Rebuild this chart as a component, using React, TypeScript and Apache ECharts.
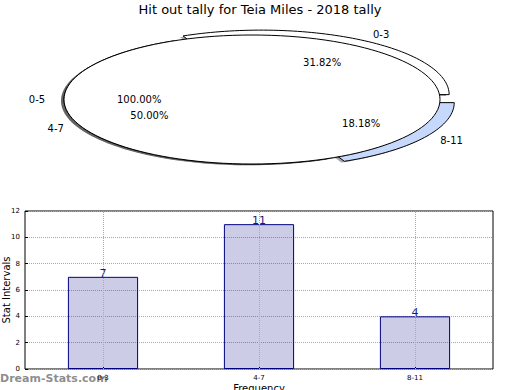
import React, { useEffect, useRef } from "react";
import * as echarts from "echarts";

const titleText = "Hit out tally for Teia Miles - 2018 tally";

// Pie (top)
const pieLabels = ["0-3", "4-7", "8-11"];
const pieValues = [7, 11, 4];
const pieExplode = [0.09, 0, 0.09];
const pieColors = ["#ffffff", "#ffffff", "#c6d9fc"];
const fullLabel = "0-5";
const fullValue = 1;

// Bars (bottom)
const barCategories = ["0-3", "4-7", "8-11"];
const barValues = [7, 11, 4];
const yTicks = { min: 0, max: 12, interval: 2 };

const PIE_CX = 252;
const PIE_CY = 99.5;
const RX = 188;
const RY = 64.5;
const FONT = '10px "DejaVu Sans"';

function arcPoints(ox: number, oy: number, a1: number, a2: number) {
  const pts: number[][] = [[ox, oy]];
  const steps = Math.max(2, Math.ceil(Math.abs(a2 - a1) / 1.5));
  for (let k = 0; k <= steps; k++) {
    const a = ((a1 + ((a2 - a1) * k) / steps) * Math.PI) / 180;
    pts.push([ox + RX * Math.cos(a), oy - RY * Math.sin(a)]);
  }
  return pts;
}

function textEl(x: number, y: number, text: string, align: string) {
  return {
    type: "text",
    z2: 10,
    x,
    y,
    style: {
      text,
      fill: "#000",
      font: FONT,
      align,
      verticalAlign: "middle",
      textAlign: align,
      textVerticalAlign: "middle",
    },
  };
}

export default function App() {
  const ref = useRef<HTMLDivElement>(null);
  useEffect(() => {
    document.body.style.margin = "0";
    if (!ref.current) return;
    const chart = echarts.init(ref.current, null, { renderer: "svg" });
    const total = pieValues.reduce((a, b) => a + b, 0);
    const starts: number[] = [];
    let acc = 0;
    pieValues.forEach((v) => {
      starts.push(acc);
      acc += v;
    });

    const renderPie = (params: any, api: any) => {
      const idx = params.dataIndex;
      const SH_DX = -3;
      const SH_DY = 1.3;
      if (idx < pieValues.length) {
        const v = api.value(0);
        const a1 = (starts[idx] / total) * 360;
        const a2 = ((starts[idx] + v) / total) * 360;
        const mid = ((a1 + a2) / 2) * (Math.PI / 180);
        const e = pieExplode[idx];
        const ox = PIE_CX + e * RX * Math.cos(mid);
        const oy = PIE_CY - e * RY * Math.sin(mid);
        const pts = arcPoints(ox, oy, a1, a2);
        const shPts = pts.map((p) => [p[0] + SH_DX, p[1] + SH_DY]);
        const lx = ox + 1.1 * RX * Math.cos(mid);
        const ly = oy - 1.1 * RY * Math.sin(mid);
        const px = ox + 0.6 * RX * Math.cos(mid);
        const py = oy - 0.6 * RY * Math.sin(mid);
        return {
          type: "group",
          children: [
            { type: "polygon", z2: 0, shape: { points: shPts }, style: { fill: "rgba(0,0,0,0.35)" } },
            {
              type: "polygon",
              z2: 1,
              shape: { points: pts },
              style: { fill: pieColors[idx], stroke: "#000", lineWidth: 1 },
            },
            textEl(lx, ly, pieLabels[idx], Math.cos(mid) < 0 ? "right" : "left"),
            textEl(px, py, ((v / total) * 100).toFixed(2) + "%", "center"),
          ],
        };
      }
      const mid = Math.PI;
      return {
        type: "group",
        children: [
          {
            type: "ellipse",
            z2: 2,
            shape: { cx: PIE_CX + SH_DX, cy: PIE_CY + SH_DY, rx: RX, ry: RY },
            style: { fill: "rgba(0,0,0,0.4)" },
          },
          {
            type: "ellipse",
            z2: 3,
            shape: { cx: PIE_CX, cy: PIE_CY, rx: RX, ry: RY },
            style: { fill: "#fff", stroke: "#000", lineWidth: 1 },
          },
          textEl(PIE_CX + 1.1 * RX * Math.cos(mid), PIE_CY, fullLabel, "right"),
          textEl(PIE_CX + 0.6 * RX * Math.cos(mid), PIE_CY, (fullValue * 100).toFixed(2) + "%", "center"),
        ],
      };
    };

    chart.setOption({
      animation: false,
      textStyle: { fontFamily: "DejaVu Sans" },
      title: {
        text: titleText,
        left: "center",
        top: -2,
        textStyle: { fontSize: 13, fontWeight: "normal", color: "#000", fontFamily: "DejaVu Sans" },
      },
      grid: {
        left: 25,
        right: 27,
        top: 211,
        bottom: 21,
        show: true,
        borderColor: "#000",
        borderWidth: 1,
        containLabel: false,
        outerBoundsMode: "none",
      },
      xAxis: {
        type: "category",
        data: barCategories,
        name: "Frequency",
        nameLocation: "middle",
        nameGap: 14,
        nameMoveOverlap: false,
        nameTextStyle: { fontSize: 10, color: "#000" },
        axisLine: { show: false },
        axisTick: { show: true, inside: true, alignWithLabel: true, length: 3, lineStyle: { color: "#000" } },
        axisLabel: { fontSize: 7, color: "#000", margin: 5 },
        splitLine: { show: false },
      },
      yAxis: {
        type: "value",
        min: yTicks.min,
        max: yTicks.max,
        interval: yTicks.interval,
        name: "Stat Intervals",
        nameLocation: "middle",
        nameGap: 14,
        nameMoveOverlap: false,
        nameTextStyle: { fontSize: 10, color: "#000" },
        axisLine: { show: false },
        axisTick: { show: true, inside: true, length: 3, lineStyle: { color: "#000" } },
        axisLabel: { fontSize: 7, color: "#000", margin: 5 },
        splitLine: { show: true, lineStyle: { type: "dotted", color: "#aaa", width: 1 } },
      },
      graphic: [
        {
          type: "text",
          left: 0,
          top: 373,
          style: {
            text: "Dream-Stats.com",
            font: 'bold 11px "DejaVu Sans"',
            fill: "rgba(120,120,120,0.85)",
          },
        },
      ],
      series: [
        {
          type: "custom",
          coordinateSystem: "none",
          renderItem: renderPie,
          data: [...pieValues.map((v, i) => [v, i]), [fullValue, pieValues.length]],
          silent: true,
        },
        {
          type: "bar",
          data: barValues,
          barWidth: "45%",
          itemStyle: { color: "rgba(0,0,128,0.2)", borderColor: "#000080", borderWidth: 1 },
          label: {
            show: true,
            position: "top",
            distance: -2,
            fontSize: 11,
            color: "#1a1a80",
          },
          markLine: {
            silent: true,
            symbol: "none",
            label: { show: false },
            lineStyle: { type: "dotted", color: "#aaa", width: 1 },
            data: barCategories.map((c) => ({ xAxis: c })),
          },
        },
      ],
    });
    return () => chart.dispose();
  }, []);
  return <div ref={ref} style={{ width: 520, height: 390 }} />;
}
